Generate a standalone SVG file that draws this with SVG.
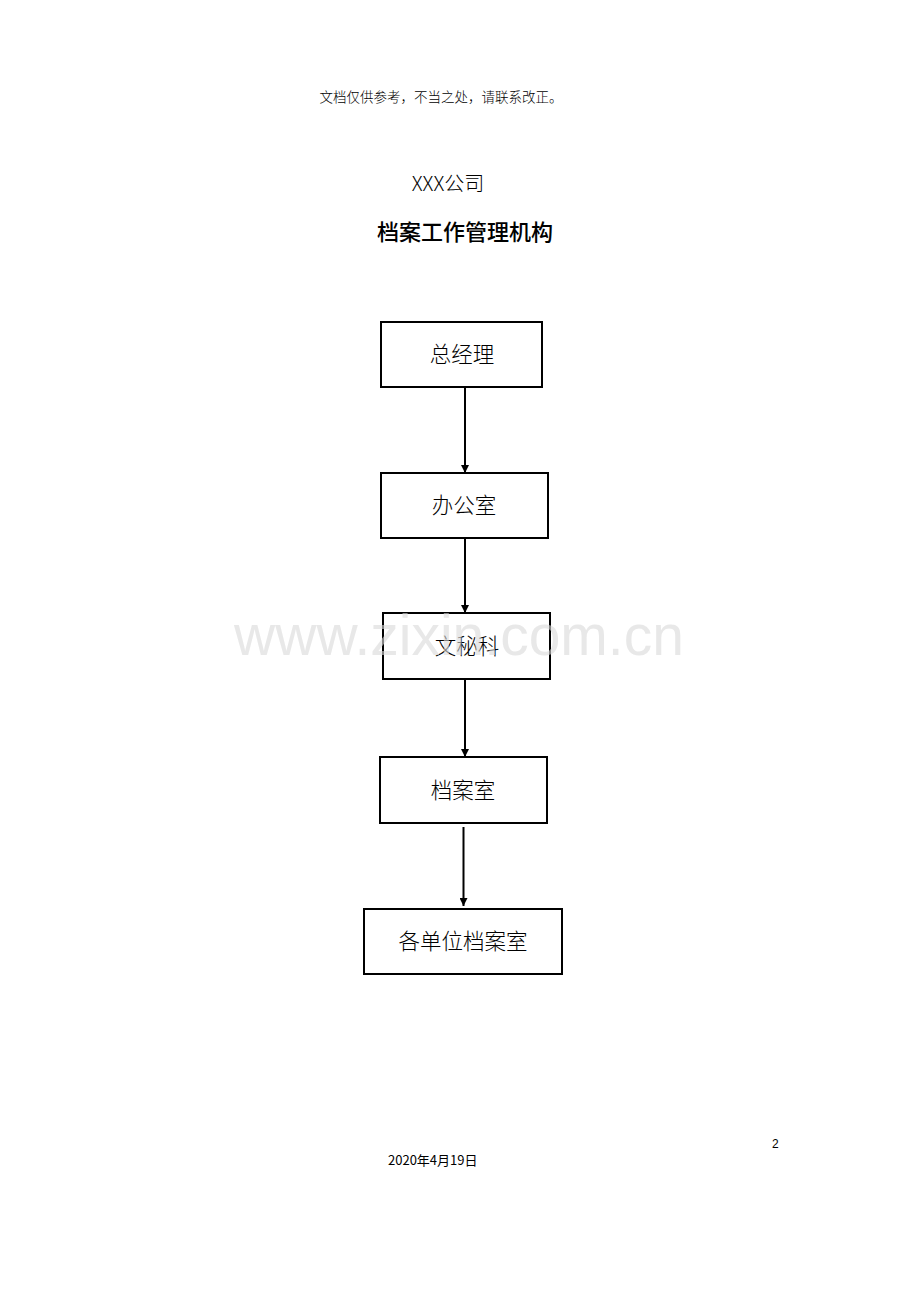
<svg xmlns="http://www.w3.org/2000/svg" width="920" height="1302" viewBox="0 0 920 1302">
<defs>
<marker id="arr" viewBox="0 0 10 10" refX="10" refY="5" markerWidth="4" markerHeight="4" orient="auto" markerUnits="strokeWidth">
<path d="M0,0 L10,5 L0,10 z" fill="#000"/>
</marker>
<style>
.box{fill:none;stroke:#000;stroke-width:2}
.lbl{font-family:"Noto Sans CJK SC","Noto Sans",sans-serif;font-size:21.5px;font-weight:300;fill:#000;text-anchor:middle}
.conn{stroke:#000;stroke-width:2;fill:none;marker-end:url(#arr)}
.cjk{font-family:"Noto Sans CJK SC",sans-serif;fill:#000}
</style>
</defs>
<rect width="920" height="1302" fill="#fff"/>
<text x="441" y="102" class="cjk" font-size="13.5" text-anchor="middle" font-weight="300">文档仅供参考，不当之处，请联系改正。</text>
<text x="448" y="191" class="cjk" font-size="20" text-anchor="middle" font-weight="300">XXX公司</text>
<text x="465" y="240" class="cjk" font-size="22" text-anchor="middle" font-weight="500">档案工作管理机构</text>
<g id="connectors">
<line class="conn" x1="465" y1="388" x2="465" y2="473"/>
<line class="conn" x1="465" y1="539" x2="465" y2="613"/>
<line class="conn" x1="465" y1="680" x2="465" y2="757"/>
<line class="conn" x1="463.5" y1="827" x2="463.5" y2="906"/>
</g>
<g id="n1"><rect class="box" x="381" y="322" width="161" height="65"/><text class="lbl" x="462" y="362">总经理</text></g>
<g id="n2"><rect class="box" x="381" y="473" width="167" height="65"/><text class="lbl" x="464" y="513">办公室</text></g>
<g id="n3"><rect class="box" x="383" y="613" width="167" height="66"/><text class="lbl" x="467" y="654">文秘科</text></g>
<g id="n4"><rect class="box" x="380" y="757" width="167" height="66"/><text class="lbl" x="463" y="798">档案室</text></g>
<g id="n5"><rect class="box" x="364" y="909" width="198" height="65"/><text class="lbl" x="463" y="949">各单位档案室</text></g>
<text x="459" y="655" font-family="'Liberation Sans',Arial,sans-serif" font-size="57" fill="#d8d8d8" fill-opacity="0.6" text-anchor="middle">www.zixin.com.cn</text>
<text x="772" y="1148" font-family="'Liberation Sans',sans-serif" font-size="12" fill="#000">2</text>
<text x="388" y="1165" class="cjk" font-size="13">2020年4月19日</text>
</svg>
